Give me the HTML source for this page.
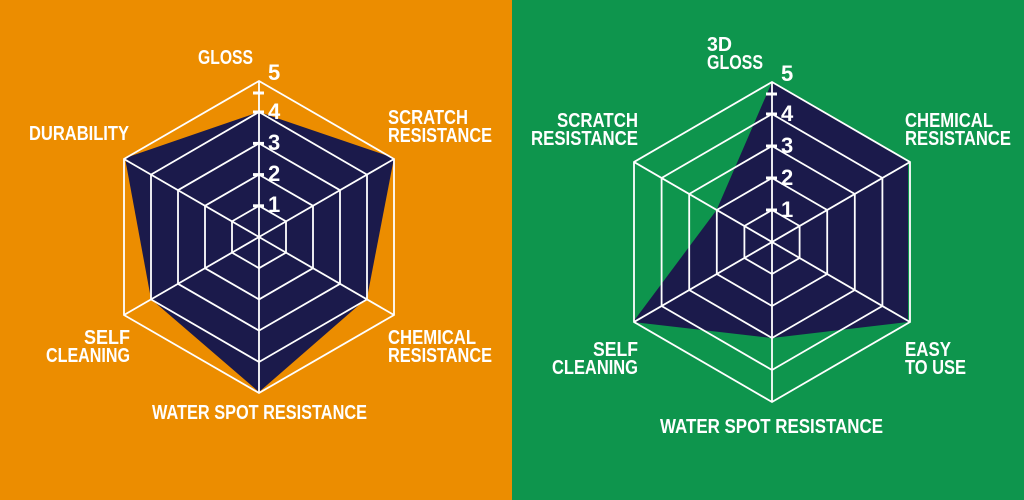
<!DOCTYPE html>
<html><head><meta charset="utf-8"><style>
html,body{margin:0;padding:0;width:1024px;height:500px;overflow:hidden}
svg text{font-family:"Liberation Sans Narrow","Liberation Sans",sans-serif;font-weight:bold;fill:#fff;font-size:20px}
</style></head><body>
<svg width="1024" height="500" viewBox="0 0 1024 500" xmlns="http://www.w3.org/2000/svg">
<rect x="0" y="0" width="512" height="500" fill="#EC8D00"/>
<rect x="512" y="0" width="512" height="500" fill="#0E954D"/>

<polygon points="259,112 394,158 367,298 259,392 151,299 125,158" fill="#1B1A4B"/>
<g fill="none" stroke="#fff" stroke-width="1.8">
<polygon points="259,81 394,159 394,315 259,393 124,315 124,159"/>
<polygon points="259,112 367,174.6 367,299.4 259,362 151,299.4 151,174.6"/>
<polygon points="259,143.4 340,190.2 340,283.8 259,330.6 178,283.8 178,190.2"/>
<polygon points="259,174.6 313,205.8 313,268.2 259,299.4 205,268.2 205,205.8"/>
<polygon points="259,205.8 286,221.4 286,252.6 259,268.2 232,252.6 232,221.4"/>
<line x1="259" y1="81" x2="259" y2="393"/>
<line x1="124" y1="159" x2="394" y2="315"/>
<line x1="394" y1="159" x2="124" y2="315"/>
</g>
<g stroke="#fff" stroke-width="3">
<line x1="253" y1="93" x2="264" y2="93"/><line x1="253" y1="112" x2="264" y2="112"/>
<line x1="253" y1="143.4" x2="264" y2="143.4"/><line x1="253" y1="174.6" x2="264" y2="174.6"/>
<line x1="253" y1="205.8" x2="264" y2="205.8"/>
</g>
<text x="268" y="80" style="font-size:22px">5</text>
<text x="268" y="119" style="font-size:22px">4</text>
<text x="268" y="150" style="font-size:22px">3</text>
<text x="268" y="181" style="font-size:22px">2</text>
<text x="268" y="212" style="font-size:22px">1</text>
<text x="198" y="64" textLength="55" lengthAdjust="spacingAndGlyphs">GLOSS</text>
<text x="29" y="140" textLength="100" lengthAdjust="spacingAndGlyphs">DURABILITY</text>
<text x="388" y="124" textLength="80" lengthAdjust="spacingAndGlyphs">SCRATCH</text>
<text x="388" y="142" textLength="104" lengthAdjust="spacingAndGlyphs">RESISTANCE</text>
<text x="84" y="344" textLength="46" lengthAdjust="spacingAndGlyphs">SELF</text>
<text x="46" y="362" textLength="84" lengthAdjust="spacingAndGlyphs">CLEANING</text>
<text x="388" y="344" textLength="88" lengthAdjust="spacingAndGlyphs">CHEMICAL</text>
<text x="388" y="362" textLength="104" lengthAdjust="spacingAndGlyphs">RESISTANCE</text>
<text x="152" y="419" textLength="215" lengthAdjust="spacingAndGlyphs">WATER SPOT RESISTANCE</text>

<polygon points="772,82 908,162 908,322 772,338 633,322 716.6,210" fill="#1B1A4B"/>
<g fill="none" stroke="#fff" stroke-width="1.8">
<polygon points="772,82 910,162 910,322 772,402 634,322 634,162"/>
<polygon points="772,114 882.4,178 882.4,306 772,370 661.6,306 661.6,178"/>
<polygon points="772,146 854.8,194 854.8,290 772,338 689.2,290 689.2,194"/>
<polygon points="772,178 827.2,210 827.2,274 772,306 716.8,274 716.8,210"/>
<polygon points="772,210 799.6,226 799.6,258 772,274 744.4,258 744.4,226"/>
<line x1="772" y1="82" x2="772" y2="402"/>
<line x1="634" y1="162" x2="910" y2="322"/>
<line x1="910" y1="162" x2="634" y2="322"/>
</g>
<g stroke="#fff" stroke-width="3">
<line x1="766" y1="94" x2="777" y2="94"/><line x1="766" y1="114" x2="777" y2="114"/>
<line x1="766" y1="146" x2="777" y2="146"/><line x1="766" y1="178" x2="777" y2="178"/>
<line x1="766" y1="210" x2="777" y2="210"/>
</g>
<text x="781" y="81" style="font-size:22px">5</text>
<text x="781" y="121" style="font-size:22px">4</text>
<text x="781" y="153" style="font-size:22px">3</text>
<text x="781" y="185" style="font-size:22px">2</text>
<text x="781" y="217" style="font-size:22px">1</text>
<text x="707" y="51" textLength="25" lengthAdjust="spacingAndGlyphs">3D</text>
<text x="707" y="69" textLength="56" lengthAdjust="spacingAndGlyphs">GLOSS</text>
<text x="557" y="127" textLength="81" lengthAdjust="spacingAndGlyphs">SCRATCH</text>
<text x="531" y="145" textLength="107" lengthAdjust="spacingAndGlyphs">RESISTANCE</text>
<text x="905" y="127" textLength="88" lengthAdjust="spacingAndGlyphs">CHEMICAL</text>
<text x="905" y="145" textLength="106" lengthAdjust="spacingAndGlyphs">RESISTANCE</text>
<text x="593" y="356" textLength="45" lengthAdjust="spacingAndGlyphs">SELF</text>
<text x="552" y="374" textLength="86" lengthAdjust="spacingAndGlyphs">CLEANING</text>
<text x="905" y="356" textLength="46" lengthAdjust="spacingAndGlyphs">EASY</text>
<text x="905" y="374" textLength="61" lengthAdjust="spacingAndGlyphs">TO USE</text>
<text x="660" y="433" textLength="223" lengthAdjust="spacingAndGlyphs">WATER SPOT RESISTANCE</text>
</svg>
</body></html>
